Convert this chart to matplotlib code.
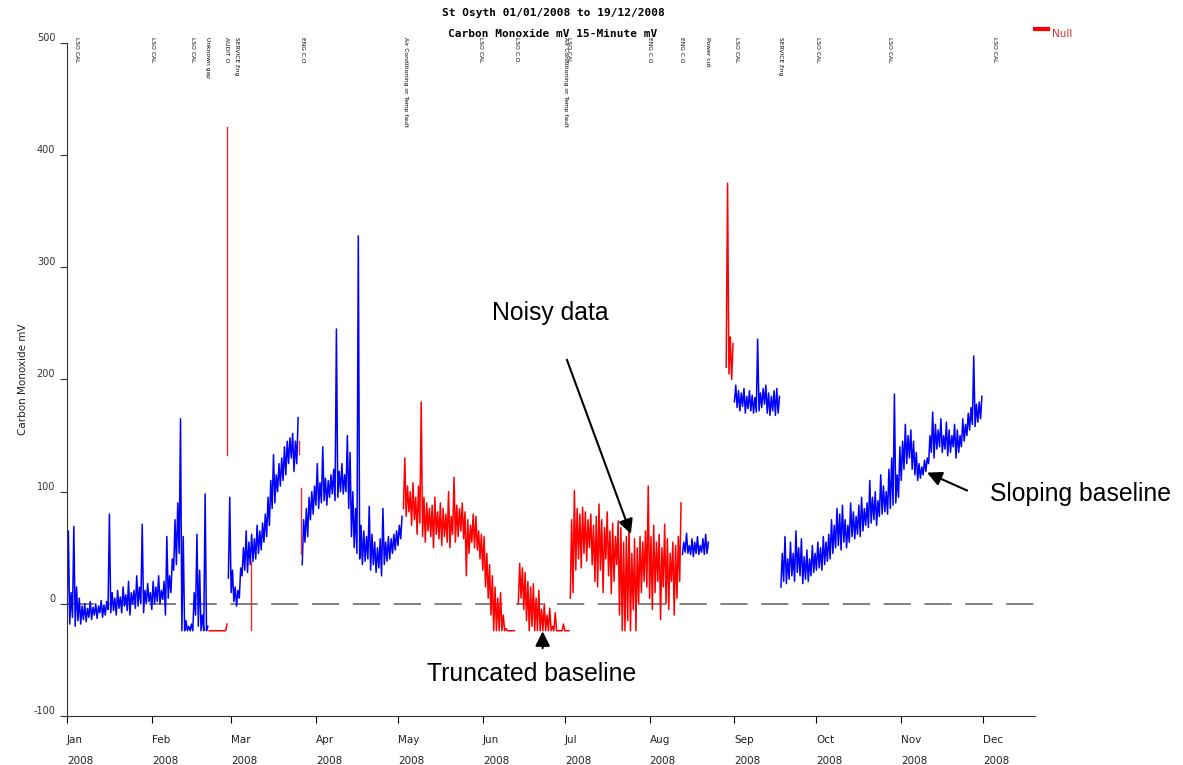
import numpy as np
import matplotlib
matplotlib.use('Agg')
import matplotlib.pyplot as plt
from matplotlib.transforms import ScaledTranslation
import datetime as dt

plt.rcParams['axes.unicode_minus'] = False

# daily low / high values (mV), one pair per day from the segment start
# blue = valid data, red = flagged (Null)
segA_start, segA_color = 0, 'blue'
segA_lo = [-15, -18, -12, -20, -15, -18, -14, -16, -12, -14, -10, -13, -8, -12, -10, -5, -8, -6, -10, -4,
           -8, -2, -6, -10, 0, -4, -2, 0, -8, 0, 2, -5, 0, 2, 0, 4, -10, 5, 10, 30,
           35, 45, -24, -24, -24, -24, -24, -10, -20, -24, -24, -24]
segA_hi = [65, 10, 69, 15, 5, -2, 0, -4, 2, -3, 0, -2, 3, -1, 2, 80, 10, 5, 12, 6,
           15, 8, 20, 10, 12, 25, 15, 71, 12, 18, 10, 20, 15, 25, 12, 20, 60, 25, 40, 75,
           90, 165, 60, -15, -20, -18, 10, 62, 30, -10, 98, -20]

segB_start, segB_color = 52, 'red'
segB_lo = [-24, -24, -24, -24, -24, -24, -24]
segB_hi = [-24, -24, -24, -24, -24, -24, -18]

segC_start, segC_color = 59, 'blue'
segC_lo = [23, 10, 2, -2, 5, 25, 30, 28, 35, 38, 40, 45, 48, 55, 60, 70, 85, 90, 100, 105,
           110, 115, 125, 130, 118, 125]
segC_hi = [95, 30, 15, 12, 32, 50, 65, 55, 62, 58, 70, 65, 72, 80, 95, 110, 133, 115, 125, 130,
           140, 145, 148, 152, 145, 166]

segD_start, segD_color = 86, 'blue'
segD_lo = [35, 55, 60, 75, 80, 88, 85, 90, 92, 88, 95, 98, 92, 95, 100, 98, 100, 85, 60, 50,
           45, 40, 35, 38, 40, 30, 35, 28, 32, 25, 35, 38, 40, 45, 48, 52, 58]
segD_hi = [75, 85, 95, 100, 105, 125, 108, 140, 112, 110, 115, 120, 245, 118, 125, 115, 150, 135, 100, 85,
           328, 70, 65, 60, 87, 62, 55, 50, 58, 85, 55, 60, 58, 62, 65, 70, 78]

segE_start, segE_color = 123, 'red'
segE_lo = [85, 78, 82, 70, 75, 62, 72, 60, 55, 65, 60, 50, 62, 58, 52, 60, 55, 50, 62, 55,
           60, 65, 58, 25, 45, 55, 50, 48, 40, 30, 15, 5, -10, -24, -24, -24, -24, -24, -24, -24, -24]
segE_hi = [130, 105, 100, 108, 95, 105, 180, 95, 90, 85, 88, 95, 82, 90, 85, 80, 100, 78, 113, 88,
           85, 90, 82, 75, 70, 80, 78, 65, 62, 60, 45, 35, 25, 15, 5, 10, -10, -22, -24, -24, -24]

segF_start, segF_color = 165, 'red'
segF_lo = [0, 5, -5, -15, -24, -20, -24, -24, -24, -24, -24, -24, -24, -24, -24, -24, -24, -24, -24]
segF_hi = [36, 32, 28, 20, 15, 18, 5, 12, -5, 0, -10, -4, -20, -8, -24, -24, -18, -24, -24]

segG_start, segG_color = 184, 'red'
segG_lo = [5, 10, 30, 40, 32, 45, 38, 50, 35, 20, 15, 30, 10, 40, 25, 9, 20, 35, -10, -24,
           -24, -15, -24, -5, -24, 0, 10, 20, 15, 5, -5, 10, 20, -14, 15, 0, -5, 20, -10, 5, 20]
segG_hi = [75, 101, 85, 80, 86, 82, 75, 80, 70, 78, 89, 75, 68, 82, 65, 72, 60, 74, 68, 55,
           60, 74, 45, 58, 50, 60, 55, 65, 105, 60, 70, 55, 62, 50, 71, 58, 45, 55, 52, 60, 90]

segH_start, segH_color = 225, 'blue'
segH_lo = [44, 46, 45, 44, 42, 45, 44, 46, 44, 45]
segH_hi = [55, 63, 52, 58, 55, 60, 52, 58, 62, 55]

segI_start, segI_color = 241, 'red'
segI_lo = [211, 205, 200]
segI_hi = [375, 238, 232]

segJ_start, segJ_color = 244, 'blue'
segJ_lo = [180, 175, 172, 176, 170, 174, 172, 170, 171, 172, 175, 178, 170, 168, 172, 168, 170]
segJ_hi = [195, 190, 188, 192, 185, 190, 186, 184, 236, 188, 192, 195, 188, 185, 190, 192, 185]

segK_start, segK_color = 261, 'blue'
segK_lo = [15, 20, 18, 22, 25, 20, 28, 25, 18, 22, 20, 25, 28, 30, 32, 30, 35, 38, 40, 45,
           50, 52, 48, 55, 50, 55, 60, 58, 62, 60, 65, 70, 68, 72, 75, 70, 78, 80, 82, 80,
           85, 88, 90, 95, 110, 120, 125, 130, 120, 115, 110, 112, 115, 118, 125, 135, 130, 138, 140, 135,
           138, 132, 135, 140, 130, 135, 140, 145, 150, 155, 160, 158, 162, 165]
segK_hi = [45, 60, 40, 55, 45, 65, 50, 58, 42, 48, 40, 52, 45, 55, 50, 60, 55, 62, 75, 70,
           85, 80, 88, 75, 70, 90, 82, 78, 88, 95, 85, 90, 110, 95, 100, 92, 115, 105, 100, 120,
           130, 187, 115, 140, 145, 160, 150, 155, 145, 135, 125, 122, 128, 130, 150, 171, 160, 155, 165, 150,
           162, 155, 150, 160, 155, 150, 165, 160, 170, 175, 221, 178, 180, 185]

# isolated red (flagged) spikes: day, low, high
spike_day = [58.6, 67.1, 84.8, 85.4]
spike_lo = [133, -23, 134, 44]
spike_hi = [425, 38, 145, 103]

# event labels written along the top
event_day = [3.3, 31.4, 45.7, 51.5, 58.2, 62.0, 86.0, 123.6, 151.0, 164.5, 182.2, 183.4,
             213.0, 224.7, 234.3, 244.7, 260.7, 274.5, 300.8, 339.0]
event_text = ['LSO CAL', 'LSO CAL', 'LSO CAL', 'Unknown gap', 'AUDIT O', 'SERVICE Eng',
              'ENG C.O', 'Air Conditioning or Temp fault', 'LSO CAL', 'LSO C.O.',
              'Air Conditioning or Temp fault', 'LSO CAL', 'ENG C.O', 'ENG C.O', 'Power cut',
              'LSO CAL', 'SERVICE Eng', 'LSO CAL', 'LSO CAL', 'LSO CAL']

months = ['Jan', 'Feb', 'Mar', 'Apr', 'May', 'Jun', 'Jul', 'Aug', 'Sep', 'Oct', 'Nov', 'Dec']

segments = [
    (segA_start, segA_lo, segA_hi, segA_color),
    (segB_start, segB_lo, segB_hi, segB_color),
    (segC_start, segC_lo, segC_hi, segC_color),
    (segD_start, segD_lo, segD_hi, segD_color),
    (segE_start, segE_lo, segE_hi, segE_color),
    (segF_start, segF_lo, segF_hi, segF_color),
    (segG_start, segG_lo, segG_hi, segG_color),
    (segH_start, segH_lo, segH_hi, segH_color),
    (segI_start, segI_lo, segI_hi, segI_color),
    (segJ_start, segJ_lo, segJ_hi, segJ_color),
    (segK_start, segK_lo, segK_hi, segK_color),
]

start = dt.datetime(2008, 1, 1)


def to_date(d):
    return start + dt.timedelta(days=float(d))


fig = plt.figure(figsize=(11.83, 7.65), dpi=100)
ax = fig.add_axes([67 / 1183, 49 / 765, (1035 - 67) / 1183, (716 - 43) / 765])

# zero reference line
ax.plot([to_date(0), to_date(353.9)], [0, 0], color='#808080', lw=1.4,
        dashes=(14, 7), zorder=1)

# each day drawn as a zigzag low -> high so it looks like the dense 15-minute trace
for s0, lo, hi, col in segments:
    xs, ys = [], []
    for i in range(len(lo)):
        xs += [to_date(s0 + i), to_date(s0 + i + 0.5)]
        ys += [lo[i], hi[i]]
    ax.plot(xs, ys, color=col, lw=1.1, zorder=2)

for d, lo, hi in zip(spike_day, spike_lo, spike_hi):
    ax.plot([to_date(d), to_date(d)], [lo, hi], color='#e03030', lw=1.0, zorder=2)

ax.set_xlim(to_date(0), to_date(353.9))
ax.set_ylim(-100, 500)
ax.set_yticks(range(-100, 501, 100))
ax.tick_params(axis='y', labelsize=7, length=5, direction='out', colors='#333333')
# value labels sit a little above their tick, as in the original
for lab in ax.get_yticklabels():
    lab.set_transform(lab.get_transform() + ScaledTranslation(0, 6 / 100, fig.dpi_scale_trans))

ticks = [dt.datetime(2008, m, 1) for m in range(1, 13)]
ax.set_xticks(ticks)
ax.set_xticklabels([m + '\n2008' for m in months], fontsize=7.5, ha='left',
                   linespacing=2.3, color='#222222')
ax.tick_params(axis='x', length=5, direction='out', pad=9)

for sp in ['top', 'right']:
    ax.spines[sp].set_visible(False)
ax.spines['left'].set_color('#333333')
ax.spines['bottom'].set_color('#333333')

ax.set_ylabel('Carbon Monoxide mV', fontsize=7.5, labelpad=4, color='#222222')

# top event labels
for d, t in zip(event_day, event_text):
    ax.text(to_date(d), 505, t, rotation=270, fontsize=4.3, va='top', ha='center',
            family='DejaVu Sans', clip_on=False)

fig.text(0.468, 0.983, 'St Osyth 01/01/2008 to 19/12/2008', ha='center', va='center',
         fontsize=8, fontweight='bold', family='DejaVu Sans Mono')
fig.text(0.467, 0.956, 'Carbon Monoxide mV 15-Minute mV', ha='center', va='center',
         fontsize=8, fontweight='bold', family='DejaVu Sans Mono')

# legend
fig.add_artist(plt.Line2D([1035 / 1183, 1048 / 1183], [1 - 29 / 765, 1 - 29 / 765],
                          color='red', lw=3))
fig.text(1052 / 1183, 1 - 34 / 765, 'Null', color='#d03030', fontsize=7.5, va='center')

# call-outs
afont = dict(fontsize=17.8, family='Liberation Sans', va='center')
arrow = dict(arrowstyle='-|>', color='black', lw=1.5, mutation_scale=22)
ax.annotate('', xy=(to_date(206.5), 60), xytext=(to_date(182.4), 220), arrowprops=arrow)
ax.text(to_date(155.3), 259, 'Noisy data', **afont)
ax.annotate('', xy=(to_date(173.9), -22), xytext=(to_date(173.9), -42), arrowprops=arrow)
ax.text(to_date(131.6), -62.5, 'Truncated baseline', **afont)
ax.annotate('', xy=(to_date(313.5), 118), xytext=(to_date(330.0), 100), arrowprops=arrow,
            annotation_clip=False)
ax.text(to_date(337.4), 98, 'Sloping baseline', clip_on=False, **afont)

fig.savefig('out.png', dpi=100)
